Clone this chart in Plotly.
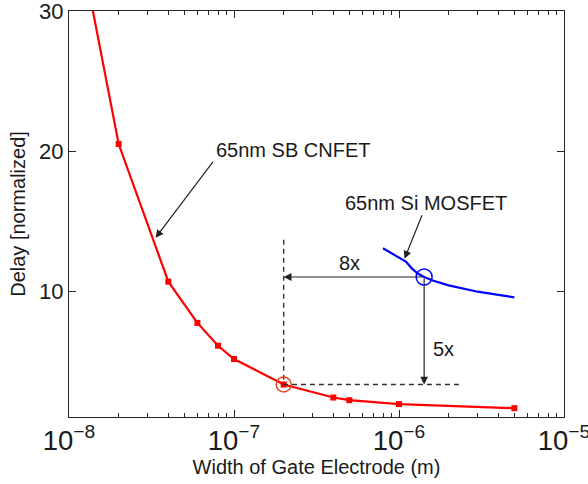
import numpy as np
import plotly.graph_objects as go

# ---- data ----
cnfet_width = [1e-8, 2e-8, 4e-8, 6e-8, 8e-8, 1e-7, 2e-7, 4e-7, 5e-7, 1e-6, 5e-6]
cnfet_delay = [38.8, 20.5, 10.67, 7.72, 6.09, 5.14, 3.32, 2.39, 2.2, 1.92, 1.63]

mosfet_width = [8e-7, 9e-7, 1.0e-6, 1.1e-6, 1.2e-6, 1.3e-6, 1.42e-6, 1.6e-6,
                2.0e-6, 2.5e-6, 3.0e-6, 4.0e-6, 5.0e-6]
mosfet_delay = [13.05, 12.7, 12.4, 12.1, 11.6, 11.25, 11.0, 10.75,
                10.4, 10.15, 9.95, 9.72, 9.55]

# highlighted comparison points
cnfet_pt = (2e-7, 3.32)
mosfet_pt = (1.42e-6, 11.0)
dash_top = 13.66
dash_right = 2.33e-6

# labels: (text, x, y)
label_cnfet = ("65nm SB CNFET", 7.57e-8, 20.1)
label_mosfet = ("65nm Si MOSFET", 4.56e-7, 16.3)
label_8x = ("8x", 5e-7, 12.0)
label_5x = ("5x", 1.87e-6, 5.85)
# pointer arrows: (tip x, tip y, tail x, tail y)
arrow_cnfet = (3.35e-8, 13.8, 7.57e-8, 19.33)
arrow_mosfet = (1.08e-6, 12.3, 1.39e-6, 15.52)

x_range = [1e-8, 1e-5]
y_range = [1, 30]
y_ticks = [10, 20, 30]

FONT = "Liberation Sans, Arial, Helvetica, sans-serif"
TXT = "#1a1a1a"
AX = "#262626"
L = np.log10

fig = go.Figure()

fig.add_trace(go.Scatter(
    x=cnfet_width, y=cnfet_delay, mode="lines+markers",
    line=dict(color="#ff0000", width=2.2),
    marker=dict(symbol="square", size=6, color="#ff0000"),
    cliponaxis=True, showlegend=False))

fig.add_trace(go.Scatter(
    x=mosfet_width, y=mosfet_delay, mode="lines",
    line=dict(color="#0000ff", width=2.2), showlegend=False))

# dashed guide lines
fig.add_trace(go.Scatter(
    x=[cnfet_pt[0], cnfet_pt[0], dash_right],
    y=[dash_top, cnfet_pt[1], cnfet_pt[1]],
    mode="lines", line=dict(color="#333333", width=1.4, dash="5px,4px"),
    showlegend=False))

# highlight circles
fig.add_trace(go.Scatter(
    x=[cnfet_pt[0]], y=[cnfet_pt[1]], mode="markers",
    marker=dict(symbol="circle-open", size=15, color="#e04a1c",
                line=dict(width=1.5, color="#e04a1c")),
    showlegend=False))
fig.add_trace(go.Scatter(
    x=[mosfet_pt[0]], y=[mosfet_pt[1]], mode="markers",
    marker=dict(symbol="circle-open", size=16, color="#0000ff",
                line=dict(width=1.5, color="#0000ff")),
    showlegend=False))

annotations = []
# 8x and 5x arrows
for tip in [(cnfet_pt[0], mosfet_pt[1]), (mosfet_pt[0], cnfet_pt[1])]:
    annotations.append(dict(
        x=L(tip[0]), y=tip[1], ax=L(mosfet_pt[0]), ay=mosfet_pt[1],
        xref="x", yref="y", axref="x", ayref="y", text="",
        showarrow=True, arrowhead=2, arrowsize=1.3, arrowwidth=1.2,
        arrowcolor="#222222", standoff=0, startstandoff=0))
# pointer arrows
for a in [arrow_cnfet, arrow_mosfet]:
    annotations.append(dict(
        x=L(a[0]), y=a[1], ax=L(a[2]), ay=a[3],
        xref="x", yref="y", axref="x", ayref="y", text="",
        showarrow=True, arrowhead=2, arrowsize=1.3, arrowwidth=1.2,
        arrowcolor="#222222", standoff=0, startstandoff=0))
# text labels
for t, xa in [(label_cnfet, "left"), (label_mosfet, "left"),
              (label_8x, "center"), (label_5x, "center")]:
    annotations.append(dict(
        x=L(t[1]), y=t[2], xref="x", yref="y", text=t[0], showarrow=False,
        xanchor=xa, yanchor="middle",
        font=dict(family=FONT, size=20, color=TXT)))

axis_common = dict(
    showline=True, linecolor=AX, linewidth=1, mirror="ticks",
    ticks="inside", tickcolor=AX, ticklen=7, tickwidth=1,
    showgrid=False, zeroline=False, automargin=False,
    ticklabeloverflow="allow",
    tickfont=dict(family=FONT, size=22, color=TXT),
)

fig.update_layout(
    width=588, height=484,
    margin=dict(l=69, r=24, t=11, b=67),
    paper_bgcolor="white", plot_bgcolor="white",
    showlegend=False,
    annotations=annotations,
    xaxis=dict(
        type="log", range=[L(x_range[0]), L(x_range[1])],
        dtick=1, exponentformat="power", showexponent="all",
        minor=dict(ticks="inside", ticklen=4, tickcolor=AX, showgrid=False),
        title=dict(text="Width of Gate Electrode (m)",
                   font=dict(family=FONT, size=20, color=TXT), standoff=4),
        **axis_common),
    yaxis=dict(
        range=y_range, tickvals=y_ticks,
        title=dict(text="Delay [normalized]",
                   font=dict(family=FONT, size=20, color=TXT), standoff=8),
        **axis_common),
)

fig.write_html("out.html",
               config={"displayModeBar": False},
               post_script="document.body.style.margin='0';"
                           "document.body.style.overflow='hidden';")
